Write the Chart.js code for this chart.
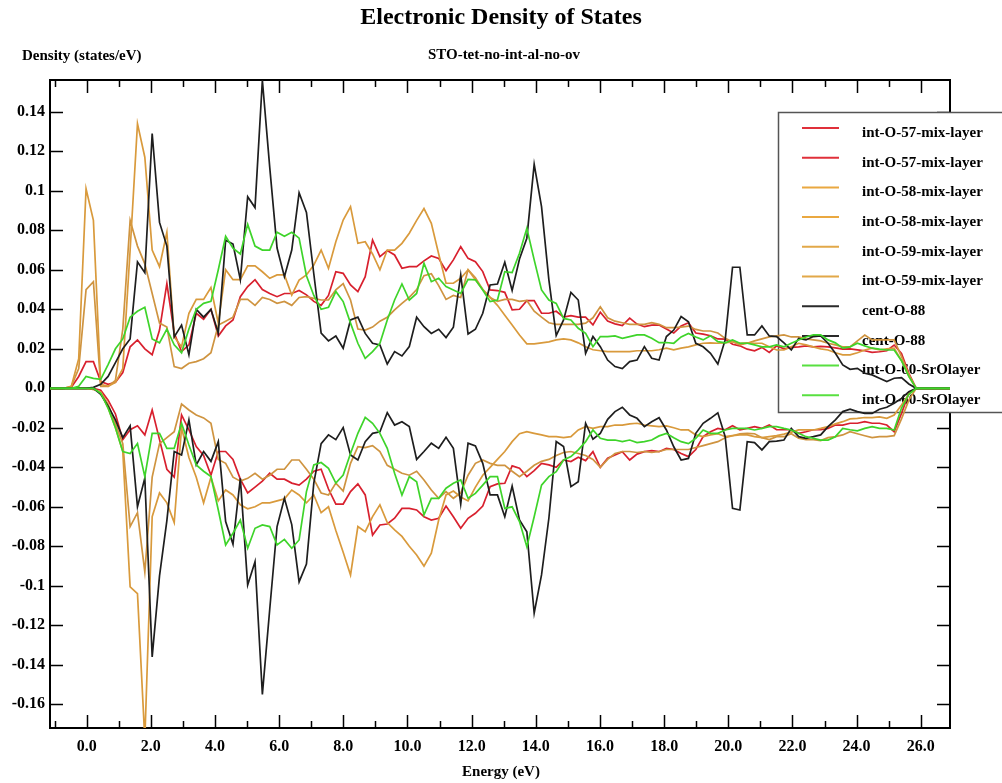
<!DOCTYPE html>
<html><head><meta charset="utf-8">
<script src="https://cdn.jsdelivr.net/npm/chart.js@4/dist/chart.umd.min.js"></script>
<style>html,body{margin:0;padding:0;background:#fff}#wrap{width:1002px;height:783px;position:relative}</style>
</head><body><div id="wrap"><canvas id="c"></canvas></div>
<script>
// Energy grid (eV)
const energy = [
-1.165,-0.936,-0.707,-0.478,-0.249,-0.02,0.209,0.438,0.667,0.896,
1.125,1.354,1.583,1.812,2.041,2.27,2.499,2.728,2.957,3.186,
3.415,3.644,3.873,4.102,4.331,4.56,4.789,5.018,5.247,5.476,
5.705,5.934,6.163,6.392,6.621,6.85,7.079,7.308,7.537,7.766,
7.995,8.224,8.453,8.682,8.911,9.14,9.369,9.598,9.827,10.056,
10.285,10.514,10.743,10.972,11.201,11.43,11.659,11.888,12.117,12.346,
12.575,12.804,13.033,13.262,13.491,13.72,13.949,14.178,14.407,14.636,
14.865,15.094,15.323,15.552,15.781,16.01,16.239,16.468,16.697,16.926,
17.155,17.384,17.613,17.842,18.071,18.3,18.529,18.758,18.987,19.216,
19.445,19.674,19.903,20.132,20.361,20.59,20.819,21.048,21.277,21.506,
21.735,21.964,22.193,22.422,22.651,22.88,23.109,23.338,23.567,23.796,
24.025,24.254,24.483,24.712,24.941,25.17,25.399,25.628,25.857,26.086,
26.315,26.544,26.773,27.002];

const o57Up = [
0,0,0,0.0005,0.006,0.0135,0.0135,0.0034,0.002,0.003,
0.008,0.021,0.0245,0.020,0.017,0.0295,0.053,0.028,0.0186,0.022,
0.038,0.035,0.040,0.0265,0.0316,0.0346,0.0464,0.0515,0.055,0.050,
0.048,0.0464,0.048,0.048,0.0495,0.0473,0.044,0.042,0.047,0.059,
0.0582,0.0523,0.049,0.0565,0.0751,0.0667,0.0697,0.0675,0.0608,0.0616,
0.0616,0.0645,0.067,0.0658,0.0596,0.065,0.0717,0.0658,0.0641,0.0591,
0.0498,0.0495,0.0486,0.0397,0.040,0.0444,0.0444,0.038,0.038,0.039,
0.036,0.0368,0.036,0.036,0.0321,0.0385,0.034,0.0326,0.0318,0.0355,
0.0325,0.0312,0.032,0.0321,0.0300,0.028,0.0315,0.0332,0.028,0.0274,
0.0266,0.025,0.0249,0.0223,0.0215,0.0198,0.019,0.0207,0.0182,0.0215,
0.020,0.0207,0.021,0.0215,0.021,0.0212,0.021,0.0205,0.0198,0.020,
0.0195,0.019,0.0182,0.0185,0.019,0.0219,0.0177,0.0076,0,0,
0,0,0,0];
const o57Down = [
0,0,0,0,0,0,0,-0.001,-0.006,-0.013,
-0.026,-0.021,-0.019,-0.0236,-0.011,-0.026,-0.041,-0.045,-0.0135,-0.021,
-0.0295,-0.034,-0.044,-0.032,-0.032,-0.036,-0.046,-0.053,-0.050,-0.047,
-0.043,-0.046,-0.046,-0.048,-0.049,-0.046,-0.042,-0.041,-0.051,-0.0586,
-0.0586,-0.0523,-0.0484,-0.054,-0.0743,-0.0692,-0.0687,-0.0658,-0.0608,-0.0608,
-0.0616,-0.065,-0.0667,-0.0658,-0.0596,-0.065,-0.0709,-0.0658,-0.0633,-0.0596,
-0.0498,-0.0484,-0.0481,-0.0393,-0.0405,-0.0447,-0.0417,-0.038,-0.0388,-0.040,
-0.0363,-0.0371,-0.0349,-0.0366,-0.0321,-0.040,-0.0354,-0.0338,-0.0321,-0.0363,
-0.0333,-0.0321,-0.0316,-0.0321,-0.0304,-0.031,-0.033,-0.0346,-0.031,-0.0245,
-0.022,-0.0203,-0.021,-0.019,-0.021,-0.0203,-0.0194,-0.0203,-0.0186,-0.021,
-0.021,-0.021,-0.0228,-0.022,-0.021,-0.021,-0.0203,-0.0186,-0.0186,-0.0177,
-0.0177,-0.0169,-0.0177,-0.0177,-0.0186,-0.022,-0.0127,-0.0025,0,0,
0,0,0,0];
const o58Up = [
0,0,0,0.001,0.015,0.101,0.085,0.002,0.001,0.003,
0.01,0.07,0.134,0.117,0.070,0.0616,0.079,0.026,0.021,0.038,
0.045,0.045,0.051,0.033,0.060,0.055,0.055,0.062,0.062,0.059,
0.0557,0.0574,0.0574,0.0472,0.0548,0.0574,0.0624,0.070,0.0607,0.0742,
0.0852,0.092,0.0734,0.0742,0.068,0.060,0.070,0.070,0.0734,0.0785,
0.085,0.091,0.0835,0.068,0.0532,0.0532,0.0557,0.060,0.055,0.050,
0.046,0.042,0.037,0.032,0.027,0.0225,0.0225,0.023,0.0235,0.0245,
0.025,0.0245,0.023,0.021,0.0195,0.019,0.0186,0.0186,0.0186,0.0186,
0.019,0.019,0.019,0.0195,0.0203,0.0195,0.0203,0.021,0.022,0.0228,
0.023,0.0228,0.023,0.0236,0.0228,0.023,0.0228,0.0228,0.021,0.0194,
0.0194,0.021,0.0228,0.022,0.021,0.020,0.0194,0.018,0.0169,0.0169,
0.018,0.0194,0.0203,0.0194,0.020,0.0203,0.014,0.006,0,0,
0,0,0,0];
const o58Down = [
0,0,0,0,0,0,-0.0005,-0.002,-0.01,-0.02,
-0.032,-0.1005,-0.104,-0.178,-0.065,-0.053,-0.058,-0.068,-0.02,-0.035,
-0.045,-0.058,-0.045,-0.057,-0.0515,-0.054,-0.059,-0.061,-0.060,-0.058,
-0.058,-0.057,-0.056,-0.0515,-0.054,-0.058,-0.054,-0.063,-0.060,-0.072,
-0.083,-0.0945,-0.070,-0.0726,-0.065,-0.059,-0.068,-0.0717,-0.075,-0.080,
-0.0844,-0.090,-0.0835,-0.0667,-0.054,-0.052,-0.055,-0.057,-0.050,-0.044,
-0.040,-0.036,-0.032,-0.027,-0.023,-0.022,-0.0228,-0.0236,-0.0245,-0.0245,
-0.025,-0.0245,-0.0211,-0.0194,-0.0203,-0.0194,-0.0194,-0.0186,-0.0186,-0.018,
-0.0177,-0.0186,-0.019,-0.0194,-0.019,-0.020,-0.0211,-0.0211,-0.0236,-0.0245,
-0.0236,-0.023,-0.0245,-0.024,-0.0236,-0.0236,-0.0245,-0.025,-0.0245,-0.024,
-0.0232,-0.0222,-0.0211,-0.021,-0.0211,-0.0203,-0.0194,-0.018,-0.0169,-0.0155,
-0.0152,-0.0148,-0.0148,-0.0145,-0.0152,-0.0135,-0.0084,-0.003,0,0,
0,0,0,0];
const o59Up = [
0,0,0,0.001,0.01,0.05,0.054,0.001,0.001,0.004,
0.03,0.085,0.072,0.063,0.048,0.033,0.031,0.011,0.010,0.0127,
0.0135,0.015,0.018,0.032,0.034,0.036,0.045,0.045,0.042,0.046,
0.045,0.043,0.044,0.042,0.046,0.0464,0.0455,0.0447,0.0447,0.0498,
0.053,0.0447,0.030,0.0295,0.031,0.034,0.036,0.0397,0.043,0.046,
0.050,0.057,0.058,0.052,0.045,0.047,0.046,0.060,0.056,0.050,
0.046,0.044,0.045,0.045,0.044,0.0445,0.039,0.036,0.0332,0.0324,
0.0324,0.0324,0.0324,0.033,0.0357,0.0413,0.0357,0.034,0.0332,0.0324,
0.0324,0.0324,0.0332,0.0324,0.0307,0.0307,0.031,0.0315,0.0298,0.029,
0.029,0.028,0.0253,0.0236,0.022,0.0228,0.024,0.025,0.026,0.0265,
0.027,0.026,0.026,0.025,0.0245,0.024,0.0228,0.022,0.021,0.021,
0.024,0.027,0.0245,0.0245,0.0245,0.0245,0.016,0.007,0,0,
0,0,0,0];
const o59Down = [
0,0,0,0,0,0,-0.0005,-0.002,-0.008,-0.018,
-0.028,-0.070,-0.063,-0.093,-0.045,-0.028,-0.025,-0.022,-0.008,-0.011,
-0.0135,-0.015,-0.0177,-0.036,-0.038,-0.045,-0.047,-0.0456,-0.043,-0.046,
-0.044,-0.041,-0.041,-0.0363,-0.0363,-0.041,-0.046,-0.053,-0.054,-0.048,
-0.052,-0.038,-0.0295,-0.030,-0.029,-0.032,-0.039,-0.041,-0.043,-0.044,
-0.042,-0.0464,-0.0515,-0.0557,-0.0523,-0.0557,-0.053,-0.044,-0.038,-0.0363,
-0.038,-0.039,-0.039,-0.042,-0.0447,-0.042,-0.039,-0.037,-0.036,-0.034,
-0.0325,-0.032,-0.033,-0.034,-0.036,-0.040,-0.036,-0.033,-0.032,-0.032,
-0.0325,-0.032,-0.0325,-0.032,-0.031,-0.031,-0.031,-0.031,-0.030,-0.029,
-0.028,-0.027,-0.025,-0.024,-0.023,-0.0228,-0.023,-0.025,-0.026,-0.0245,
-0.0245,-0.023,-0.0253,-0.026,-0.026,-0.0265,-0.025,-0.0245,-0.0236,-0.022,
-0.023,-0.024,-0.025,-0.0245,-0.0245,-0.024,-0.0155,-0.006,0,0,
0,0,0,0];
const o88Up = [
0,0,0,0,0,0,0.0005,0.002,0.006,0.013,
0.02,0.025,0.064,0.0585,0.129,0.084,0.072,0.026,0.032,0.017,
0.040,0.036,0.040,0.028,0.075,0.073,0.055,0.097,0.0915,0.156,
0.112,0.071,0.0565,0.070,0.099,0.089,0.058,0.028,0.024,0.0265,
0.0203,0.0346,0.036,0.0278,0.0228,0.0219,0.0123,0.0186,0.0164,0.0211,
0.036,0.0312,0.0278,0.0299,0.0257,0.0309,0.0574,0.0275,0.0299,0.038,
0.0523,0.0528,0.0638,0.0495,0.0655,0.076,0.1134,0.092,0.0549,0.0267,
0.0346,0.0486,0.0447,0.0177,0.0262,0.0211,0.0143,0.011,0.010,0.0135,
0.0143,0.0211,0.0152,0.0143,0.0262,0.0295,0.0363,0.0337,0.0228,0.021,
0.0177,0.0123,0.0245,0.0613,0.0613,0.027,0.027,0.0316,0.0265,0.0262,
0.023,0.0194,0.0253,0.0245,0.0262,0.0265,0.0228,0.0177,0.0118,0.0096,
0.0101,0.0076,0.0068,0.0051,0.0034,0.0051,0.0054,0.0022,0,0,
0,0,0,0];
const o88Down = [
0,0,0,0,0,0,0,-0.003,-0.009,-0.016,
-0.025,-0.019,-0.060,-0.0455,-0.136,-0.095,-0.067,-0.032,-0.0338,-0.016,
-0.0388,-0.032,-0.037,-0.027,-0.0675,-0.079,-0.0456,-0.0996,-0.0878,-0.155,
-0.112,-0.070,-0.0557,-0.069,-0.098,-0.089,-0.048,-0.028,-0.0236,-0.026,
-0.0199,-0.0338,-0.0363,-0.027,-0.0228,-0.022,-0.0123,-0.0186,-0.0169,-0.0194,
-0.036,-0.032,-0.0278,-0.0304,-0.0248,-0.0304,-0.0586,-0.0278,-0.0292,-0.038,
-0.054,-0.054,-0.065,-0.0495,-0.0667,-0.0726,-0.1139,-0.0945,-0.0658,-0.027,
-0.0295,-0.0498,-0.0473,-0.0177,-0.0258,-0.0228,-0.0157,-0.0118,-0.0096,-0.0135,
-0.0152,-0.0194,-0.0169,-0.0149,-0.0211,-0.0296,-0.0363,-0.0355,-0.0228,-0.0177,
-0.0152,-0.0124,-0.0245,-0.0608,-0.0616,-0.027,-0.0275,-0.0312,-0.027,-0.0267,
-0.0262,-0.0203,-0.0245,-0.0253,-0.0245,-0.0236,-0.0194,-0.016,-0.0118,-0.0106,
-0.0118,-0.0127,-0.0127,-0.0106,-0.0096,-0.0076,-0.0051,-0.0017,0,0,
0,0,0,0];
const o60Up = [
0,0,0,0,0.001,0.006,0.005,0.0045,0.012,0.02,
0.025,0.036,0.039,0.041,0.025,0.023,0.030,0.022,0.018,0.030,
0.040,0.043,0.044,0.060,0.077,0.071,0.068,0.083,0.072,0.070,
0.070,0.079,0.077,0.079,0.076,0.057,0.047,0.040,0.041,0.049,
0.0439,0.033,0.0228,0.0152,0.0186,0.0228,0.0346,0.0447,0.0528,0.0447,
0.048,0.0633,0.054,0.0557,0.0515,0.0498,0.048,0.0552,0.0549,0.0498,
0.0439,0.0447,0.0591,0.0586,0.0684,0.081,0.065,0.0498,0.0447,0.043,
0.0354,0.0346,0.0304,0.0278,0.0211,0.0262,0.0262,0.0265,0.0253,0.0262,
0.027,0.027,0.0253,0.0231,0.0232,0.0228,0.026,0.0278,0.026,0.0245,
0.0266,0.0236,0.023,0.0245,0.0228,0.0228,0.022,0.021,0.021,0.022,
0.021,0.0228,0.0245,0.026,0.027,0.027,0.0245,0.023,0.0203,0.021,
0.0228,0.0215,0.0203,0.0198,0.0194,0.0194,0.014,0.006,0,0,
0,0,0,0];
const o60Down = [
0,0,0,0,0,0,0,-0.0025,-0.01,-0.02,
-0.032,-0.033,-0.028,-0.0447,-0.0228,-0.0228,-0.0304,-0.0304,-0.0177,-0.0287,
-0.0388,-0.042,-0.0447,-0.0616,-0.0793,-0.0734,-0.0667,-0.081,-0.0709,-0.0692,
-0.070,-0.0793,-0.0765,-0.081,-0.0768,-0.0523,-0.0388,-0.0376,-0.0405,-0.048,
-0.0439,-0.033,-0.0228,-0.0147,-0.0177,-0.0228,-0.0304,-0.043,-0.054,-0.0447,
-0.0473,-0.0641,-0.0557,-0.0557,-0.0506,-0.0481,-0.0464,-0.0557,-0.0532,-0.049,
-0.0447,-0.0447,-0.0608,-0.060,-0.0675,-0.0802,-0.065,-0.049,-0.0447,-0.0422,
-0.0363,-0.0346,-0.0312,-0.027,-0.0211,-0.0253,-0.0262,-0.0262,-0.027,-0.0262,
-0.0275,-0.027,-0.0262,-0.0241,-0.0228,-0.025,-0.027,-0.028,-0.0253,-0.0211,
-0.0228,-0.0228,-0.0211,-0.0203,-0.0203,-0.0203,-0.0211,-0.0203,-0.0194,-0.0194,
-0.0203,-0.0211,-0.0228,-0.0245,-0.0253,-0.0262,-0.0262,-0.0245,-0.0203,-0.021,
-0.0215,-0.0203,-0.0194,-0.0203,-0.0203,-0.0211,-0.010,-0.003,0,0,
0,0,0,0];

const seriesNames = ['int-O-57-mix-layer','int-O-57-mix-layer','int-O-58-mix-layer','int-O-58-mix-layer',
  'int-O-59-mix-layer','int-O-59-mix-layer','cent-O-88','cent-O-88','int-O-60-SrOlayer','int-O-60-SrOlayer'];
const seriesValues = [o57Up,o57Down,o58Up,o58Down,o59Up,o59Down,o88Up,o88Down,o60Up,o60Down];
const seriesColors = ['#d8202e','#d8202e','#d99a3c','#d99a3c','#cf9440','#cf9440','#1e1e1e','#1e1e1e','#3ed42a','#3ed42a'];
const legendColors = ['#e0303a','#e0303a','#eaa840','#eaa840','#e2a848','#e2a848','#2a2a2a','#2a2a2a','#58e040','#58e040'];
const seriesOrder = [4,4,3,3,3,3,1,1,0,0];

const xTickValues = [0,2,4,6,8,10,12,14,16,18,20,22,24,26];
const xMinorTickValues = [-1,1,3,5,7,9,11,13,15,17,19,21,23,25];
const yTickValues = [-0.16,-0.14,-0.12,-0.1,-0.08,-0.06,-0.04,-0.02,0,0.02,0.04,0.06,0.08,0.1,0.12,0.14];
const yTickLabels = ['-0.16','-0.14','-0.12','-0.1','-0.08','-0.06','-0.04','-0.02','0.0','0.02','0.04','0.06','0.08','0.1','0.12','0.14'];

const SERIF = '"Liberation Serif","Times New Roman",serif';

const datasets = seriesValues.map((vals, i) => ({
  label: seriesNames[i],
  data: energy.map((e, j) => ({x: e, y: vals[j]})),
  borderColor: seriesColors[i],
  backgroundColor: seriesColors[i],
  borderWidth: 1.7,
  pointRadius: 0,
  tension: 0,
  fill: false,
  order: seriesOrder[i]
}));

const framePlugin = {
  id: 'frame',
  beforeDatasetsDraw(chart) {
    const ctx = chart.ctx, a = chart.chartArea;
    const xs = chart.scales.x, ys = chart.scales.y;
    ctx.save();
    // titles
    ctx.fillStyle = '#000';
    ctx.textBaseline = 'middle';
    ctx.textAlign = 'center';
    ctx.font = 'bold 24px ' + SERIF;
    ctx.fillText('Electronic Density of States', 501, 18);
    ctx.font = 'bold 15px ' + SERIF;
    ctx.fillText('STO-tet-no-int-al-no-ov', 504, 55);
    ctx.fillText('Energy (eV)', 501, 772);
    ctx.textAlign = 'left';
    ctx.fillText('Density (states/eV)', 22, 56);
    // frame
    ctx.strokeStyle = '#000';
    ctx.lineWidth = 2;
    ctx.strokeRect(a.left, a.top, a.right - a.left, a.bottom - a.top);
    // ticks
    ctx.lineWidth = 1.5;
    ctx.beginPath();
    xTickValues.forEach(v => {
      const p = Math.round(xs.getPixelForValue(v)) + 0.5;
      ctx.moveTo(p, a.top); ctx.lineTo(p, a.top + 13);
      ctx.moveTo(p, a.bottom); ctx.lineTo(p, a.bottom - 13);
    });
    xMinorTickValues.forEach(v => {
      const p = Math.round(xs.getPixelForValue(v)) + 0.5;
      ctx.moveTo(p, a.top); ctx.lineTo(p, a.top + 7);
      ctx.moveTo(p, a.bottom); ctx.lineTo(p, a.bottom - 7);
    });
    yTickValues.forEach(v => {
      const p = Math.round(ys.getPixelForValue(v)) + 0.5;
      ctx.moveTo(a.left, p); ctx.lineTo(a.left + 13, p);
      ctx.moveTo(a.right, p); ctx.lineTo(a.right - 13, p);
    });
    ctx.stroke();
    // legend box (drawn beneath the curves)
    const lx = 778, ly = 112, lw = 240, lh = 300;
    ctx.fillStyle = '#fff';
    ctx.fillRect(lx, ly, lw, lh);
    ctx.strokeStyle = '#555';
    ctx.lineWidth = 1.5;
    ctx.strokeRect(lx + 0.5, ly + 0.5, lw, lh);
    ctx.font = 'bold 15px ' + SERIF;
    ctx.textAlign = 'left';
    ctx.textBaseline = 'middle';
    seriesNames.forEach((name, i) => {
      const y = 128 + i * 29.7;
      ctx.strokeStyle = legendColors[i];
      ctx.lineWidth = 2;
      ctx.beginPath();
      ctx.moveTo(802, y); ctx.lineTo(839, y);
      ctx.stroke();
      ctx.fillStyle = '#000';
      ctx.fillText(name, 862, y + 5);
    });
    ctx.restore();
  }
};

new Chart(document.getElementById('c'), {
  type: 'line',
  data: { datasets },
  options: {
    responsive: true,
    maintainAspectRatio: false,
    animation: false,
    devicePixelRatio: 1,
    layout: { padding: { top: 80, right: 52, bottom: 0, left: 0 } },
    plugins: { legend: { display: false }, tooltip: { enabled: false }, title: { display: false } },
    scales: {
      x: {
        type: 'linear', min: -1.144, max: 26.911,
        grid: { display: false, drawTicks: false, tickLength: 0 }, border: { display: false },
        afterBuildTicks: (axis) => { axis.ticks = xTickValues.map(v => ({ value: v })); },
        afterFit: (axis) => { axis.height = 55; },
        ticks: {
          autoSkip: false, maxRotation: 0, padding: 9, color: '#000',
          font: { family: SERIF, size: 16, weight: 'bold' },
          callback: (v) => Number(v).toFixed(1)
        }
      },
      y: {
        type: 'linear', min: -0.1720, max: 0.1561,
        grid: { display: false, drawTicks: false, tickLength: 0 }, border: { display: false },
        afterBuildTicks: (axis) => { axis.ticks = yTickValues.map(v => ({ value: v })); },
        afterFit: (axis) => { axis.width = 50; },
        ticks: {
          autoSkip: false, padding: 5, color: '#000',
          font: { family: SERIF, size: 16, weight: 'bold' },
          callback: (v, i) => yTickLabels[i]
        }
      }
    }
  },
  plugins: [framePlugin]
});
</script>
</body></html>
